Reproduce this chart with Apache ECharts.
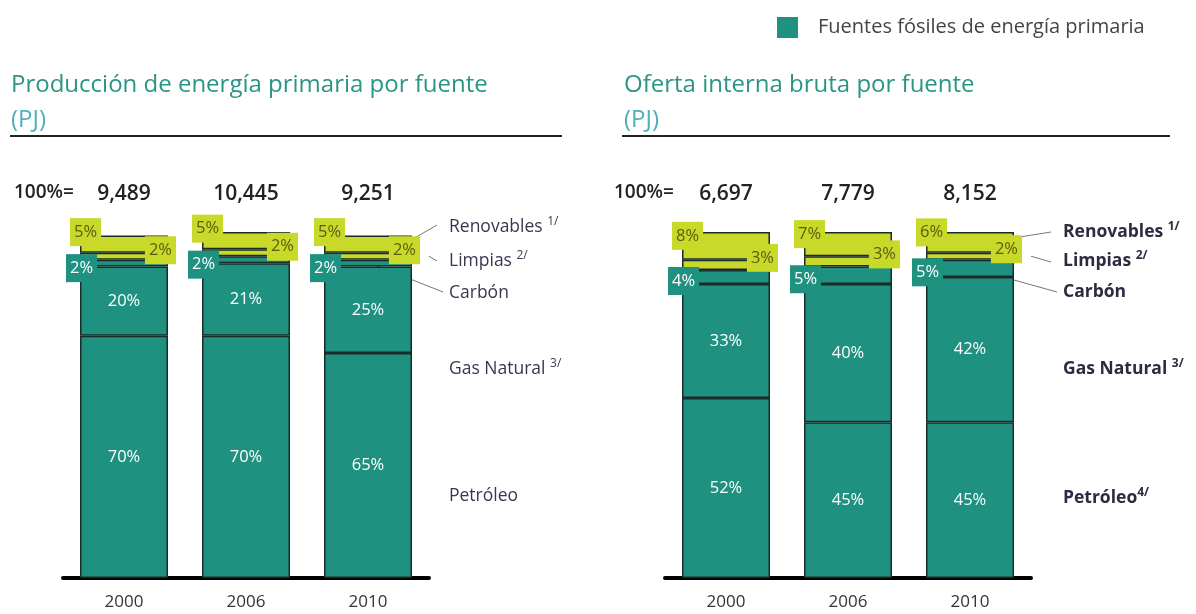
<!DOCTYPE html>
<html><head><meta charset="utf-8">
<script src="https://cdn.jsdelivr.net/npm/echarts@6/dist/echarts.min.js"></script>
<style>html,body{margin:0;padding:0;background:#fff}#c{width:1196px;height:614px}</style>
</head><body><div id="c"></div>
<script>
const years = ['2000', '2006', '2010'];
// Producción de energía primaria por fuente (%)
const prodTotals = ['9,489', '10,445', '9,251'];
const prodPetroleo = [70, 70, 65];
const prodGas = [20, 21, 25];
const prodCarbon = [2, 2, 2];
const prodLimpias = [2, 2, 2];
const prodRenov = [5, 5, 5];
// Oferta interna bruta por fuente (%)
const ofTotals = ['6,697', '7,779', '8,152'];
const ofPetroleo = [52, 45, 45];
const ofGas = [33, 40, 42];
const ofCarbon = [4, 5, 5];
const ofLimpias = [3, 3, 2];
const ofRenov = [8, 7, 6];

const TEAL = '#1f9180', LIME = '#c8d92a', FONT = 'Open Sans';
const chart = echarts.init(document.getElementById('c'));

function grid(left) { return { left: left, width: 366, top: 232, height: 346 }; }
function botAxis(g) {
  return { type: 'category', gridIndex: g, data: years,
    axisLine: { lineStyle: { color: '#000', width: 4 } }, axisTick: { show: false },
    axisLabel: { fontFamily: FONT, fontSize: 17, color: '#333', margin: 16 } };
}
function topAxis(g, totals) {
  return { type: 'category', gridIndex: g, position: 'top', data: totals,
    axisLine: { show: false }, axisTick: { show: false },
    axisLabel: { fontFamily: FONT, fontSize: 21, color: '#222', margin: 27, fontWeight: 600 } };
}
const border = { borderColor: '#1b2b29', borderWidth: 1.5 };
function s(name, data, g, color, label) {
  return { type: 'bar', name: name, xAxisIndex: g * 2, yAxisIndex: g, stack: 'g' + g, data: data,
    barWidth: 88, itemStyle: Object.assign({ color: color }, border), label: label };
}
const LFS = 16.5;
const PAD = [6, 4, 5, 4];
const plain = { show: true, position: 'inside', color: '#fff', fontFamily: FONT, fontSize: LFS, formatter: '{c}%' };
function carbLbl(dy) { return { show: true, position: 'insideLeft', offset: [-19, dy], color: '#fff', backgroundColor: TEAL,
  padding: PAD, fontFamily: FONT, fontSize: LFS, formatter: '{c}%' }; }
function renLbl(dy) { return { show: true, position: 'insideLeft', offset: [-15, dy], color: '#5e5c12', backgroundColor: LIME,
  padding: PAD, fontFamily: FONT, fontSize: LFS, formatter: '{c}%' }; }
function limLbl(dy) { return { show: true, position: 'insideRight', offset: [13, dy], color: '#5e5c12', backgroundColor: LIME,
  padding: PAD, fontFamily: FONT, fontSize: LFS, formatter: '{c}%' }; }

const series = [
  s('Petróleo', prodPetroleo, 0, TEAL, plain),
  s('Gas Natural', prodGas, 0, TEAL, plain),
  s('Carbón', prodCarbon, 0, TEAL, carbLbl(5)),
  s('Limpias', prodLimpias, 0, LIME, limLbl(-6)),
  s('Renovables', prodRenov, 0, LIME, renLbl(-12)),
  s('Petróleo ', ofPetroleo, 1, TEAL, plain),
  s('Gas Natural ', ofGas, 1, TEAL, plain),
  s('Carbón ', ofCarbon, 1, TEAL, carbLbl(4)),
  s('Limpias ', ofLimpias, 1, LIME, limLbl(-7)),
  s('Renovables ', ofRenov, 1, LIME, renLbl(-10)),
  { type: 'line', name: 'Fuentes fósiles de energía primaria', xAxisIndex: 0, yAxisIndex: 0, data: [],
    itemStyle: { color: TEAL }, lineStyle: { color: TEAL } }
];

const titleStyle = { fontFamily: FONT, fontSize: 24, fill: '#2b9585' };
const lblL = { fill: '#3b3550' };
const lblR = { fill: '#2e2a40', fontWeight: 'bold' };
function rlabel(x, y, txt, sup, st) {
  return { type: 'text', left: x, top: y - 12, style: { text: '{a|' + txt + '}' + (sup ? '{s|' + sup + '}' : ''),
    rich: { a: { fontFamily: FONT, fontSize: 17.5, fontWeight: st.fontWeight || 'normal', fill: st.fill, lineHeight: 24 },
            s: { fontFamily: FONT, fontSize: 12, fontWeight: st.fontWeight || 'normal', fill: st.fill, padding: [0, 0, 10, 0], lineHeight: 24 } } } };
}
const staticGraphics = [
  { type: 'text', left: 11, top: 73, style: Object.assign({ text: 'Producción de energía primaria por fuente' }, titleStyle) },
  { type: 'text', left: 11, top: 108, style: Object.assign({ text: '(PJ)' }, titleStyle, { fill: '#4fb0b8' }) },
  { type: 'rect', left: 10, top: 135, shape: { width: 552, height: 2 }, style: { fill: '#222' } },
  { type: 'text', left: 624, top: 73, style: Object.assign({ text: 'Oferta interna bruta por fuente' }, titleStyle) },
  { type: 'text', left: 624, top: 108, style: Object.assign({ text: '(PJ)' }, titleStyle, { fill: '#4fb0b8' }) },
  { type: 'rect', left: 622, top: 135, shape: { width: 548, height: 2 }, style: { fill: '#222' } },
  { type: 'text', left: 14, top: 183, style: { text: '100%=', fontFamily: FONT, fontSize: 19, fill: '#222', fontWeight: 600 } },
  { type: 'text', left: 614, top: 183, style: { text: '100%=', fontFamily: FONT, fontSize: 19, fill: '#222', fontWeight: 600 } },
  rlabel(449, 228, 'Renovables ', '1/', lblL),
  rlabel(449, 262, 'Limpias ', '2/', lblL),
  rlabel(449, 296, 'Carbón', '', lblL),
  rlabel(449, 370, 'Gas Natural ', '3/', lblL),
  rlabel(449, 499, 'Petróleo', '', lblL),
  rlabel(1063, 233, 'Renovables ', '1/', lblR),
  rlabel(1063, 262, 'Limpias ', '2/', lblR),
  rlabel(1063, 295, 'Carbón', '', lblR),
  rlabel(1063, 370, 'Gas Natural ', '3/', lblR),
  rlabel(1063, 499, 'Petróleo', '4/', lblR)
];

chart.setOption({
  animation: false,
  textStyle: { fontFamily: FONT },
  legend: { left: 772, top: 12, icon: 'rect', itemWidth: 21, itemHeight: 21,
    data: ['Fuentes fósiles de energía primaria'],
    textStyle: { fontFamily: FONT, fontSize: 20, color: '#444', padding: [0, 0, 0, 15] } },
  grid: [grid(63), grid(665)],
  xAxis: [botAxis(0), topAxis(0, prodTotals), botAxis(1), topAxis(1, ofTotals)],
  yAxis: [0, 1].map(g => ({ type: 'value', gridIndex: g, min: 0, max: 100, show: false, splitLine: { show: false } })),
  series: series,
  graphic: staticGraphics
});

// leader lines from the 2010 bar segments to the side labels
function leaders(g, ren, lim, carb, lx, ends) {
  const pet = [prodPetroleo, ofPetroleo][g][2], gas = [prodGas, ofGas][g][2];
  const c = carb[2], l = lim[2], r = ren[2];
  const yC = chart.convertToPixel({ gridIndex: g }, ['2010', pet + gas + c / 2]);
  const yL = chart.convertToPixel({ gridIndex: g }, ['2010', pet + gas + c + l / 2]);
  const yR = chart.convertToPixel({ gridIndex: g }, ['2010', pet + gas + c + l + r * 0.7]);
  const cx = yC[0];
  const mk = (x1, y1, x2, y2) => ({ type: 'line', shape: { x1: x1, y1: y1, x2: x2, y2: y2 }, style: { stroke: '#777', lineWidth: 1 } });
  return [
    mk(cx + 42, yR[1], lx - 12, ends[0]),
    mk(cx + 61, yL[1], lx - 12, ends[1]),
    mk(cx + 2, yC[1], lx - 6, ends[2])
  ];
}
const lines = leaders(0, prodRenov, prodLimpias, prodCarbon, 449, [225, 261, 292])
  .concat(leaders(1, ofRenov, ofLimpias, ofCarbon, 1063, [232, 262, 292]));
chart.setOption({ graphic: staticGraphics.concat(lines) });
</script></body></html>
